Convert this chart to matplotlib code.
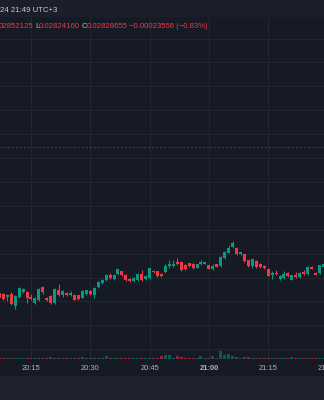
import matplotlib
matplotlib.use("Agg")
import matplotlib.pyplot as plt
from matplotlib.patches import Rectangle
from matplotlib.ticker import MultipleLocator
import matplotlib.transforms as mtransforms

# 1-minute bars, 20:07 .. 21:29 (minutes after 20:00)
minutes = list(range(7, 90))

opens = [0.0282176, 0.0282155, 0.0282092, 0.0282155, 0.0281904, 0.0282092, 0.0282197, 0.0282197,
         0.0282092, 0.0281973, 0.0282023, 0.0282301, 0.0282065, 0.0282119, 0.0281966, 0.0282238,
         0.0282134, 0.0282182, 0.0282134, 0.0282140, 0.0282128, 0.0282077, 0.0282161, 0.0282218,
         0.0282140, 0.0282301, 0.0282391, 0.0282441, 0.0282546, 0.0282475, 0.0282567, 0.0282630,
         0.0282559, 0.0282469, 0.0282427, 0.0282441, 0.0282567, 0.0282475, 0.0282489, 0.0282642,
         0.0282630, 0.0282567, 0.0282615, 0.0282747, 0.0282734, 0.0282830, 0.0282824, 0.0282761,
         0.0282797, 0.0282789, 0.0282705, 0.0282776, 0.0282789, 0.0282755, 0.0282678, 0.0282776,
         0.0282734, 0.0282908, 0.0283019, 0.0283132, 0.0283117, 0.0282985, 0.0282985, 0.0282860,
         0.0282734, 0.0282845, 0.0282782, 0.0282741, 0.0282678, 0.0282552, 0.0282600, 0.0282469,
         0.0282489, 0.0282594, 0.0282454, 0.0282559, 0.0282504, 0.0282609, 0.0282573, 0.0282726,
         0.0282600, 0.0282588, 0.0282720]
highs = [0.0282197, 0.0282176, 0.0282155, 0.0282197, 0.0282134, 0.0282301, 0.0282280, 0.0282218,
         0.0282155, 0.0282082, 0.0282280, 0.0282322, 0.0282082, 0.0282134, 0.0282270, 0.0282364,
         0.0282238, 0.0282197, 0.0282211, 0.0282155, 0.0282144, 0.0282238, 0.0282249, 0.0282238,
         0.0282301, 0.0282427, 0.0282469, 0.0282579, 0.0282588, 0.0282579, 0.0282688, 0.0282646,
         0.0282573, 0.0282483, 0.0282510, 0.0282584, 0.0282657, 0.0282552, 0.0282709, 0.0282657,
         0.0282646, 0.0282584, 0.0282776, 0.0282860, 0.0282866, 0.0282908, 0.0282839, 0.0282776,
         0.0282810, 0.0282803, 0.0282789, 0.0282866, 0.0282830, 0.0282768, 0.0282776, 0.0282789,
         0.0282950, 0.0283048, 0.0283174, 0.0283264, 0.0283132, 0.0283040, 0.0282998, 0.0282872,
         0.0282893, 0.0282860, 0.0282797, 0.0282768, 0.0282692, 0.0282630, 0.0282657, 0.0282552,
         0.0282642, 0.0282609, 0.0282559, 0.0282609, 0.0282609, 0.0282651, 0.0282741, 0.0282741,
         0.0282615, 0.0282768, 0.0282789]
lows = [0.0282050, 0.0282029, 0.0282008, 0.0281925, 0.0281847, 0.0282071, 0.0282176, 0.0281966,
        0.0282029, 0.0281956, 0.0282008, 0.0282161, 0.0282008, 0.0281946, 0.0281946, 0.0282113,
        0.0282092, 0.0282113, 0.0282113, 0.0282019, 0.0282029, 0.0282061, 0.0282144, 0.0282134,
        0.0282077, 0.0282280, 0.0282374, 0.0282427, 0.0282479, 0.0282458, 0.0282552, 0.0282531,
        0.0282427, 0.0282406, 0.0282406, 0.0282427, 0.0282437, 0.0282458, 0.0282469, 0.0282600,
        0.0282510, 0.0282517, 0.0282594, 0.0282692, 0.0282720, 0.0282761, 0.0282646, 0.0282663,
        0.0282726, 0.0282684, 0.0282692, 0.0282761, 0.0282776, 0.0282671, 0.0282663, 0.0282713,
        0.0282720, 0.0282893, 0.0283006, 0.0283117, 0.0282964, 0.0282971, 0.0282830, 0.0282726,
        0.0282699, 0.0282705, 0.0282699, 0.0282684, 0.0282525, 0.0282475, 0.0282552, 0.0282454,
        0.0282475, 0.0282517, 0.0282441, 0.0282496, 0.0282489, 0.0282552, 0.0282559, 0.0282671,
        0.0282546, 0.0282573, 0.0282705]
closes = [0.0282077, 0.0282050, 0.0282134, 0.0281946, 0.0282107, 0.0282280, 0.0282253, 0.0282077,
          0.0282044, 0.0282065, 0.0282266, 0.0282197, 0.0282029, 0.0281960, 0.0282253, 0.0282134,
          0.0282218, 0.0282134, 0.0282169, 0.0282035, 0.0282044, 0.0282218, 0.0282238, 0.0282155,
          0.0282287, 0.0282406, 0.0282454, 0.0282546, 0.0282496, 0.0282546, 0.0282671, 0.0282546,
          0.0282441, 0.0282420, 0.0282496, 0.0282567, 0.0282454, 0.0282538, 0.0282692, 0.0282615,
          0.0282531, 0.0282531, 0.0282734, 0.0282776, 0.0282789, 0.0282776, 0.0282663, 0.0282678,
          0.0282741, 0.0282699, 0.0282776, 0.0282818, 0.0282818, 0.0282684, 0.0282747, 0.0282726,
          0.0282935, 0.0283033, 0.0283117, 0.0283215, 0.0282992, 0.0283027, 0.0282845, 0.0282741,
          0.0282881, 0.0282720, 0.0282713, 0.0282699, 0.0282538, 0.0282588, 0.0282567, 0.0282538,
          0.0282579, 0.0282531, 0.0282546, 0.0282510, 0.0282594, 0.0282567, 0.0282726, 0.0282684,
          0.0282559, 0.0282755, 0.0282776]
volumes = [15, 12, 10, 12, 15, 10, 12, 15,
           12, 10, 12, 12, 15, 18, 12, 15, 10, 12, 10, 15, 12,
           20, 10, 12, 10, 12, 12, 27,
           12, 10, 12, 15, 15, 12, 10, 12,
           12, 15, 12, 12, 15,
           35, 40, 45, 15, 27, 20, 12, 10, 12, 10,
           27, 12, 12, 27, 15,
           77, 40, 47, 30, 18, 15, 22, 22,
           12, 10, 12, 12, 15, 12, 10, 15, 12, 12, 20, 15, 12, 12, 10, 15, 12, 10, 12]

time_ticks = [15, 30, 45, 60, 75, 90]
time_labels = ["20:15", "20:30", "20:45", "21:00", "21:15", "21:30"]
prev_close = 0.02852211

BG = "#161a25"
GRID = "#222631"
UP = "#089981"
DOWN = "#f23645"
TEXT = "#b2b5be"

W, H = 324, 400
fig = plt.figure(figsize=(W / 100, H / 100), dpi=100, facecolor=BG)
plt.rcParams["font.family"] = ["Liberation Sans", "DejaVu Sans"]


def fy(y):
    return 1 - y / H


# header strip and bottom toolbar
fig.add_artist(Rectangle((0, fy(17)), 1, 17 / H, transform=fig.transFigure,
                         facecolor="#1b1f2a", edgecolor="none"))
fig.add_artist(Rectangle((0, 0), 1, 24 / H, transform=fig.transFigure,
                         facecolor="#1f222c", edgecolor="none"))

ax = fig.add_axes([0, fy(359), 1, 342 / H])
ax.set_facecolor(BG)
ax.set_xlim(7.16, 89.12)
ax.set_ylim(0.0280795, 0.0287950)
for s in ax.spines.values():
    s.set_visible(False)
ax.set_xticks(time_ticks[:-1])
ax.yaxis.set_major_locator(MultipleLocator(0.00005))
ax.tick_params(length=0, labelbottom=False, labelleft=False)
ax.grid(True, color=GRID, linewidth=0.75)
ax.set_axisbelow(True)

colors = [UP if c >= o else DOWN for o, c in zip(opens, closes)]
ax.vlines(minutes, lows, highs, colors=colors, linewidth=0.75, zorder=3)
bottoms = [min(o, c) for o, c in zip(opens, closes)]
heights = [max(abs(c - o), 0.0000021) for o, c in zip(opens, closes)]
ax.bar(minutes, heights, bottom=bottoms, width=0.76, color=colors, linewidth=0, zorder=4)

ax.axhline(prev_close, color=DOWN, alpha=0.45, linewidth=0.7, linestyle=(0, (2, 2)), zorder=2)

# volume pane sharing the time axis
vax = ax.twinx()
vax.set_ylim(0, 3420)
vax.axis("off")
vax.bar(minutes, volumes, width=0.76, color=colors, alpha=0.5, linewidth=0)

# time axis labels
trans = mtransforms.blended_transform_factory(ax.transData, fig.transFigure)
for t, lab in zip(time_ticks, time_labels):
    ax.text(t, fy(369), lab, transform=trans, ha="center", va="center", fontsize=5.4,
            color=TEXT, fontweight="bold" if lab == "21:00" else "normal", clip_on=False)

# legend rows
fig.text(0 / W, fy(10), "24 21:49 UTC+3", ha="left", va="center", fontsize=5.6, color="#c8cbd3")
row = fy(26.5)
fig.text(-1 / W, row, "02852125", ha="left", va="center", fontsize=5.6, color=DOWN)
fig.text(35 / W, row, "L", ha="left", va="center", fontsize=5.6, color=TEXT)
fig.text(38.5 / W, row, "0.02824160", ha="left", va="center", fontsize=5.6, color=DOWN)
fig.text(81.5 / W, row, "C", ha="left", va="center", fontsize=5.6, color=TEXT)
fig.text(86.5 / W, row, "0.02828655", ha="left", va="center", fontsize=5.6, color=DOWN)
fig.text(129 / W, row, "\u22120.00023556 (\u22120.83%)", ha="left", va="center", fontsize=5.6, color=DOWN)

fig.savefig("out.png", dpi=100, facecolor=BG)
